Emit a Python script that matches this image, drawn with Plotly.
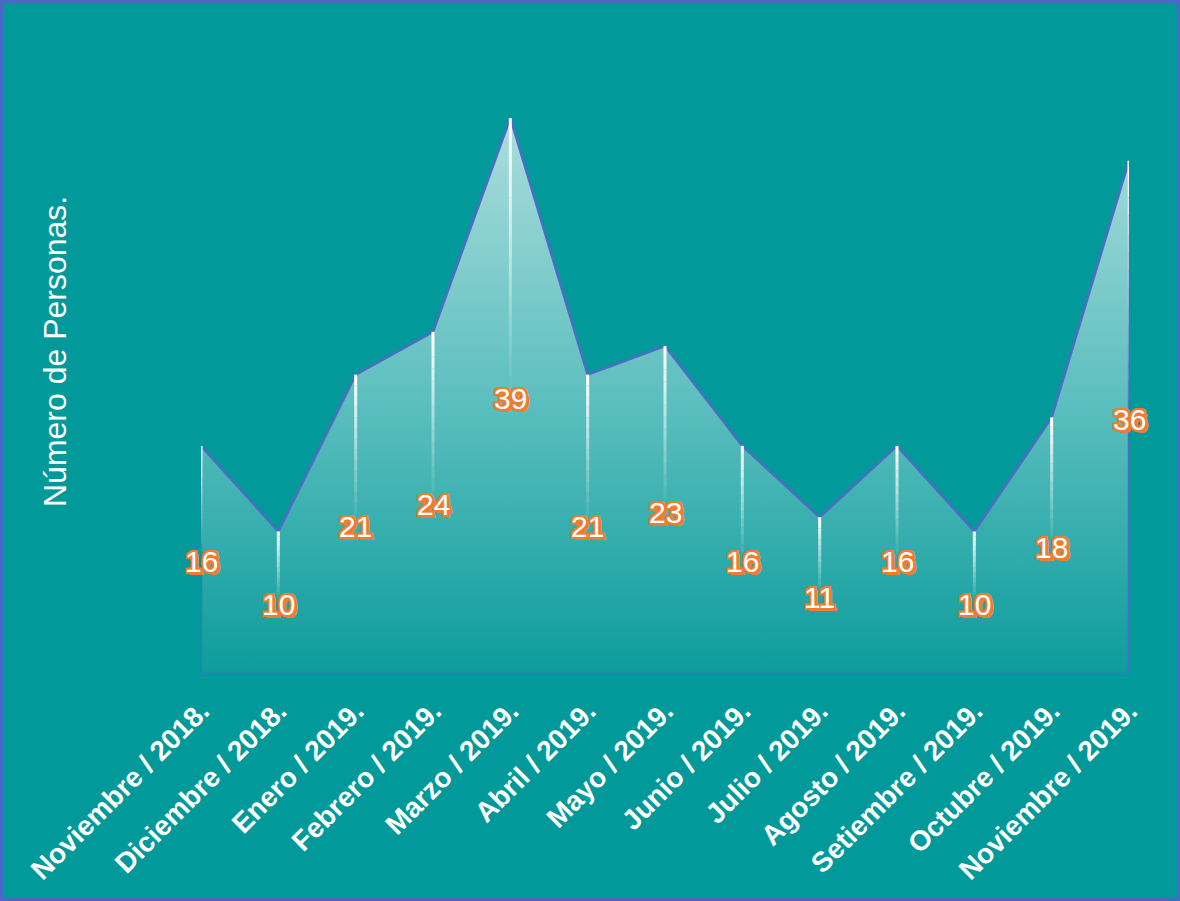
import plotly.graph_objects as go

# Monthly head count, November 2018 - November 2019
meses = [
    "Noviembre / 2018.", "Diciembre / 2018.", "Enero / 2019.", "Febrero / 2019.",
    "Marzo / 2019.", "Abril / 2019.", "Mayo / 2019.", "Junio / 2019.",
    "Julio / 2019.", "Agosto / 2019.", "Setiembre / 2019.", "Octubre / 2019.",
    "Noviembre / 2019.",
]
personas = [16, 10, 21, 24, 39, 21, 23, 16, 11, 16, 10, 18, 36]

BG = "#019999"
EDGE = "#4f6cc4"
ORANGE = "#ee7d32"
FONT = "Liberation Sans, Arial, sans-serif"

W, H = 1180, 901
M_L, M_R, M_T, M_B = 201, 51, 118, 227

idx = list(range(len(meses)))
fig = go.Figure()

# Closed area polygon: the series line plus the baseline, with a vertical gradient
poly_x = idx + [idx[-1], idx[0], idx[0]]
poly_y = personas + [0, 0, personas[0]]
fig.add_trace(go.Scatter(
    x=poly_x, y=poly_y, mode="lines", fill="toself",
    fillgradient=dict(type="vertical",
                      colorscale=[[0, "#0d9c9c"], [0.5, "#5ebfbf"], [1, "#abdddd"]]),
    line=dict(color=EDGE, width=2.5),
    hoverinfo="skip", cliponaxis=False, showlegend=False,
))

# White drop lines fading from each point down to half its height
steps = 14
for s in range(steps):
    xs, ys = [], []
    for i, v in zip(idx, personas):
        top = v - (v / 2) * s / steps
        bot = v - (v / 2) * (s + 1) / steps
        xs += [i, i, None]
        ys += [top, bot, None]
    alpha = max(0.0, 1.0 - s / steps) ** 1.2
    fig.add_trace(go.Scatter(
        x=xs, y=ys, mode="lines",
        line=dict(color=f"rgba(255,255,255,{alpha:.3f})", width=3),
        hoverinfo="skip", cliponaxis=False, showlegend=False,
    ))

# Value labels centred at half height, white with an orange outline
outline = ", ".join(
    f"{dx}px {dy}px 0 {ORANGE}"
    for dx, dy in [(-2, -2), (2, -2), (-2, 2), (2, 2), (0, 2), (0, -2), (2, 0), (-2, 0),
                   (3, 3), (3, 2), (2, 3)]
)
labels = [dict(
    x=i, y=v / 2, xref="x", yref="y", text=str(v), showarrow=False, yshift=-2,
    font=dict(family=FONT, size=30, color="white", shadow=outline),
) for i, v in zip(idx, personas)]

fig.update_layout(
    width=W, height=H,
    margin=dict(l=M_L, r=M_R, t=M_T, b=M_B),
    paper_bgcolor=BG, plot_bgcolor=BG,
    xaxis=dict(
        range=[0, len(meses) - 1], tickmode="array", tickvals=idx, ticktext=meses,
        tickangle=-45, showgrid=False, zeroline=False, showline=False, ticks="",
        ticklabelstandoff=14,
        tickfont=dict(family=FONT, size=28, color="white", weight="bold"),
    ),
    yaxis=dict(range=[0, 39], visible=False),
    annotations=labels + [dict(
        text="Número de Personas.", xref="paper", yref="paper",
        x=(55 - M_L) / (W - M_L - M_R), y=(H - M_B - 352) / (H - M_T - M_B),
        xanchor="center", yanchor="middle",
        textangle=-90, showarrow=False,
        font=dict(family=FONT, size=32, color="white"),
    )],
    shapes=[dict(
        type="rect", xref="paper", yref="paper",
        x0=(1.5 - M_L) / (W - M_L - M_R), x1=(1178.5 - M_L) / (W - M_L - M_R),
        y0=(H - M_B - 899.5) / (H - M_T - M_B), y1=(H - M_B - 1.5) / (H - M_T - M_B),
        line=dict(color="#4a68c8", width=3), layer="above",
    )],
)

fig.write_html("out.html")
